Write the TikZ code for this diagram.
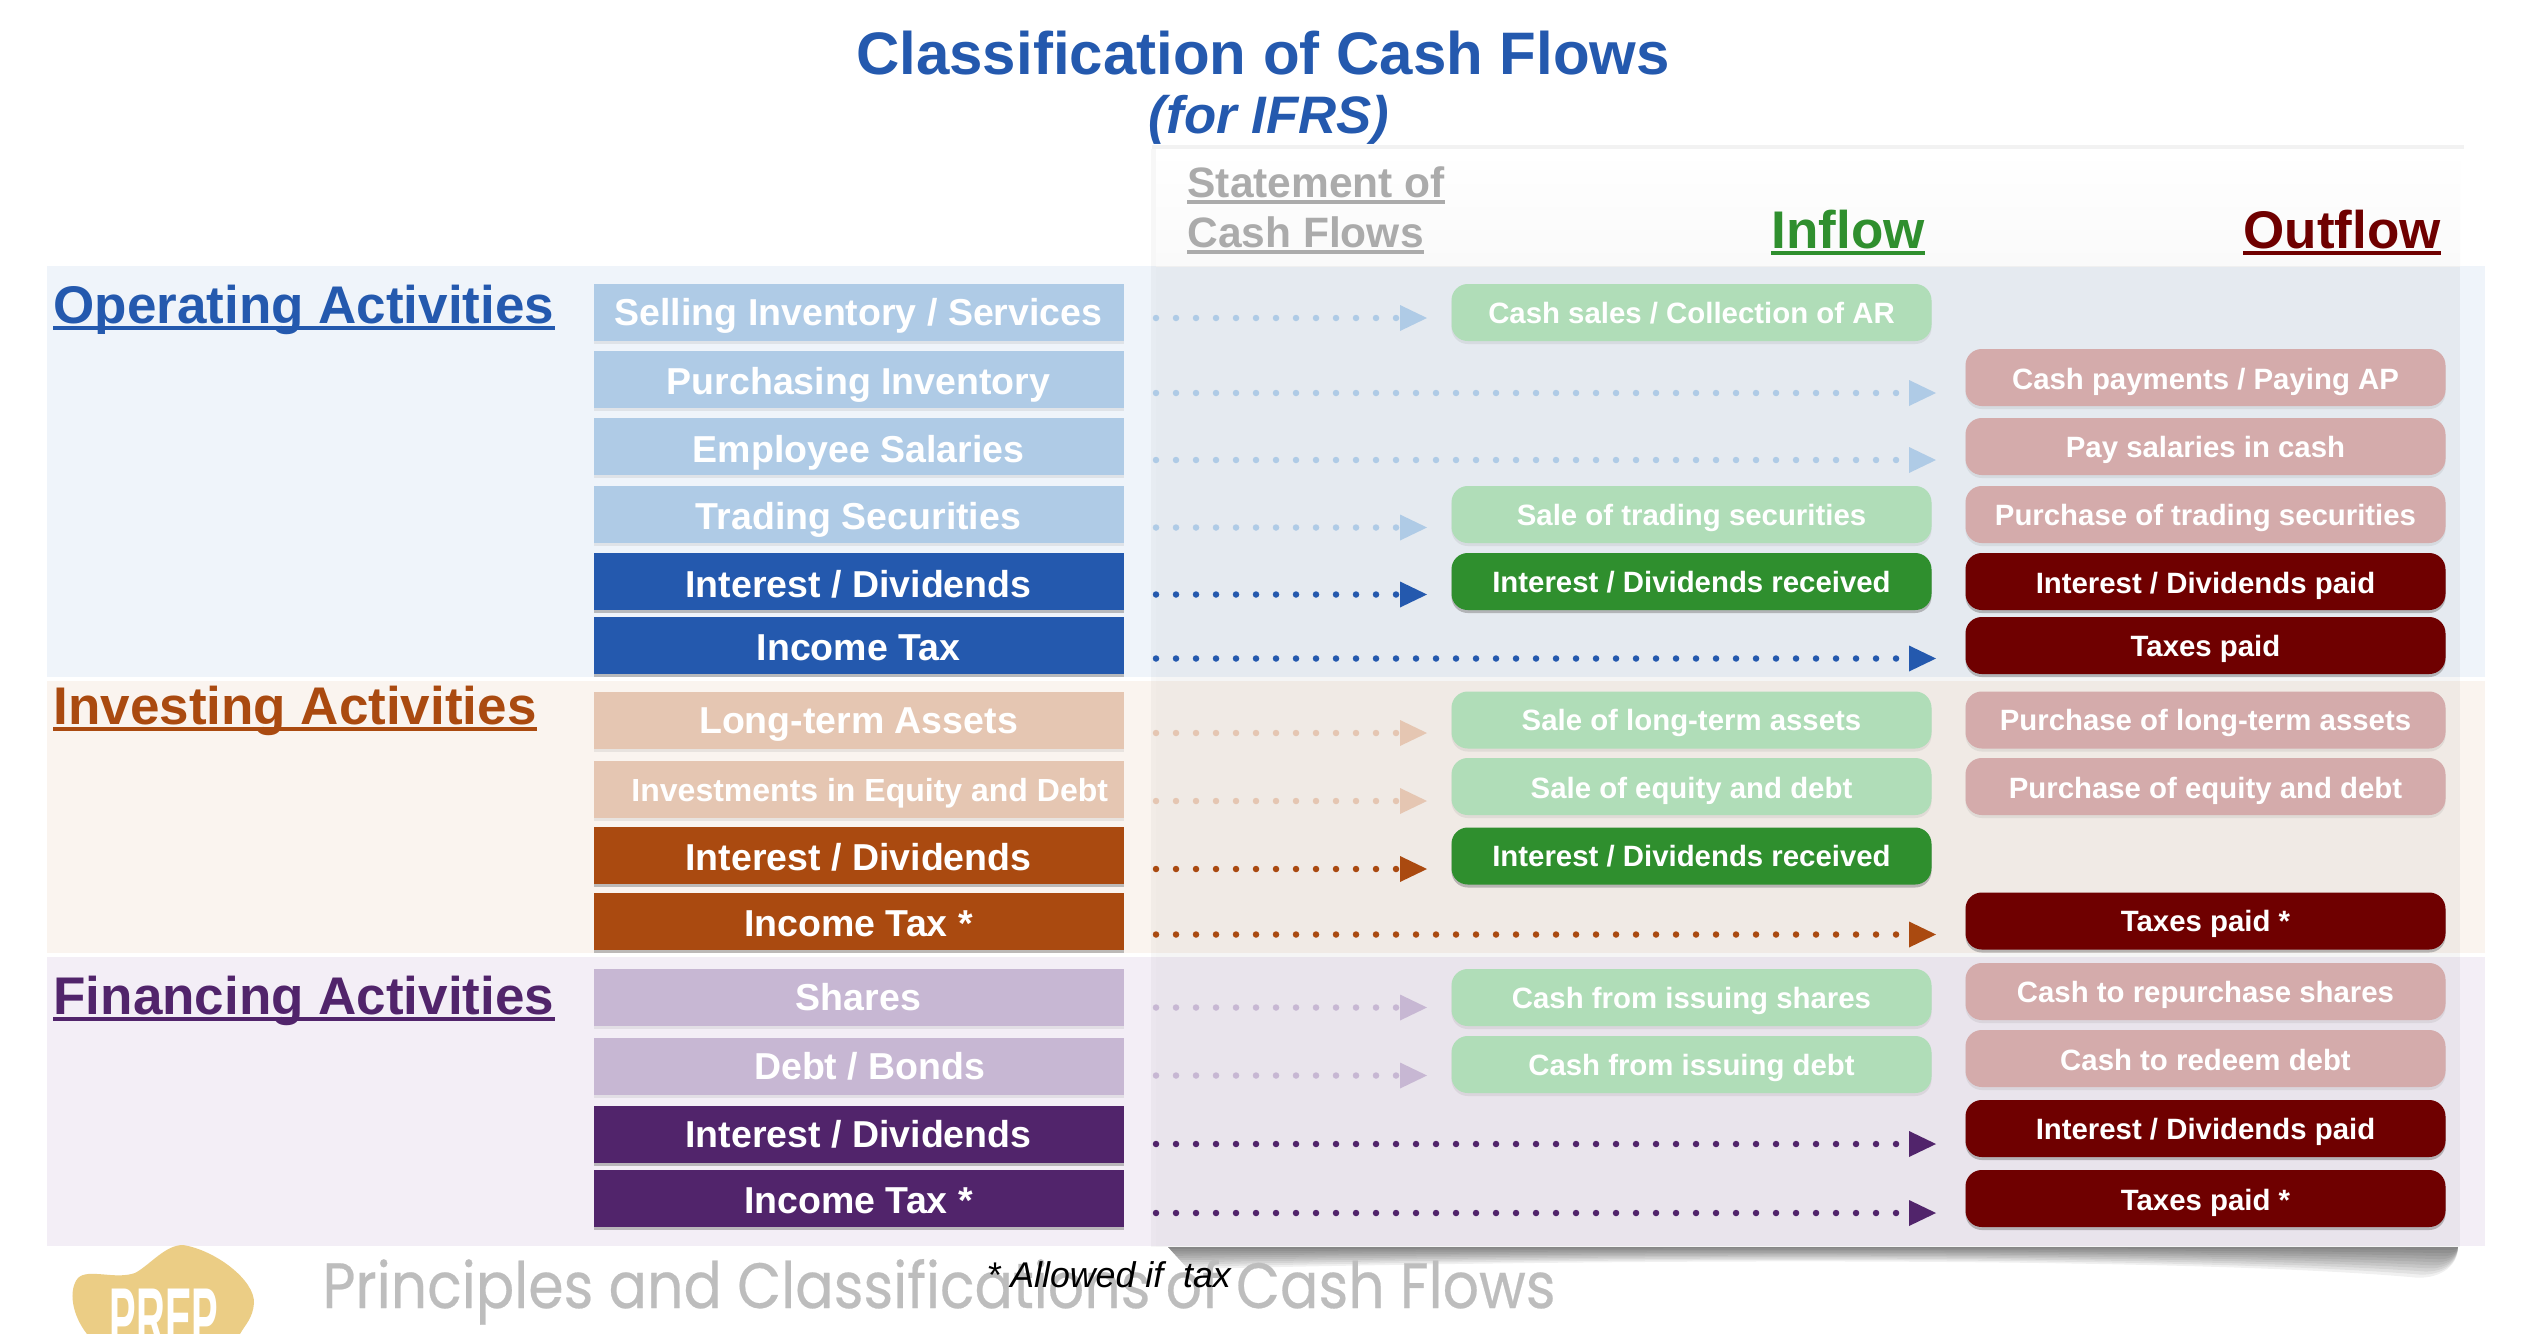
\documentclass[tikz,border=0pt]{standalone}
\usepackage{fontspec}
\setmainfont{Liberation Sans}
\newfontfamily\gothicfont[FakeBold=.4]{Poppins}
\usetikzlibrary{arrows.meta,shadows}
\definecolor{opdark}{RGB}{36,89,174}
\definecolor{oplight}{RGB}{175,203,230}
\definecolor{opband}{RGB}{239,244,250}
\definecolor{invdark}{RGB}{170,74,16}
\definecolor{invlight}{RGB}{229,198,178}
\definecolor{invband}{RGB}{250,244,239}
\definecolor{findark}{RGB}{81,36,107}
\definecolor{finlight}{RGB}{199,183,211}
\definecolor{finband}{RGB}{243,238,246}
\definecolor{ingreen}{RGB}{47,143,46}
\definecolor{inpale}{RGB}{176,221,184}
\definecolor{outred}{RGB}{111,0,0}
\definecolor{outpale}{RGB}{212,171,171}
\definecolor{headgray}{RGB}{171,171,171}
\definecolor{markgray}{RGB}{189,189,189}
\definecolor{prepgold}{RGB}{235,205,133}
\tikzset{
  rowbox/.style={fill=#1,text=white,font=\fontsize{15}{18}\selectfont\bfseries,
    minimum width=212pt,minimum height=22.8pt,inner sep=0pt,
    text height=10.7pt,text depth=0pt},
  lowtext/.style={text height=12pt},
  softshade/.style={drop shadow={shadow xshift=0pt,shadow yshift=-1.2pt,opacity=.14}},
  hardshade/.style={drop shadow={shadow xshift=0pt,shadow yshift=-1.2pt,opacity=.5}},
  flowbox/.style={fill=#1,text=white,rounded corners=6.5pt,
    font=\fontsize{11.75}{14}\selectfont\bfseries,
    minimum width=192pt,minimum height=22.8pt,inner sep=0pt,
    text height=8.4pt,text depth=0pt},
  lowflow/.style={text height=9.6pt},
  sectionhead/.style={text=#1,anchor=base west,inner sep=0pt,
    font=\fontsize{21.2}{25}\selectfont\bfseries},
  grayhead/.style={text=headgray,anchor=base west,inner sep=0pt,
    font=\fontsize{17}{20}\selectfont\bfseries},
  headrule/.style={draw=#1,line width=1.4pt},
  flowdots/.style={draw=#1,line width=2.6pt,line cap=round,
    dash pattern=on 0pt off 8pt,
    -{Triangle[length=10.8pt,width=10.4pt,line width=0pt,fill=#1]}},
}
\begin{document}
\begin{tikzpicture}[x=.4pt,y=-.4pt]
    \useasboundingbox (0,0) rectangle (2522,1334);
    \fill[white] (0,0) rectangle (2522,1334);
    \fill[opband] (47,266) rectangle (2485,677);
    \fill[invband] (47,681) rectangle (2485,953);
    \fill[finband] (47,957) rectangle (2485,1246);

    % statement panel
    \fill[black,opacity=.05] (1152,145) rectangle (2464,149);
    \fill[black,opacity=.03] (1151,149) rectangle (1156,1247);
    \shade[top color=white,bottom color=black!2] (1156,149) rectangle (2460,266);
    \fill[black,opacity=.04] (1156,266) rectangle (2460,1247);
    \foreach \d in {2,4,...,20}
      \fill[black,opacity=.06] (1168,1247) -- (2458,1247)
        .. controls (2458,{1247+\d}) and ({2458-\d},{1247+\d*1.7}) .. ({2450-\d*2},{1247+\d*1.5})
        .. controls (2200,{1247+\d*.6}) and (1700,{1247+\d*.5}) .. ({1168+\d},{1247+\d*1.1})
        -- cycle;

    \node[text=opdark,anchor=base,inner sep=0pt,font=\fontsize{24}{28}\selectfont\bfseries]
      (title) at (1263,74) {Classification of Cash Flows};
    \node[text=opdark,anchor=base,inner sep=0pt,font=\fontsize{21.1}{25}\selectfont\bfseries\itshape]
      (subtitle) at (1269,133) {(for IFRS)};
    \node[grayhead] (stmtone) at (1187,197) {Statement of};
    \node[grayhead] (stmttwo) at (1187,247) {Cash Flows};
    \node[sectionhead=ingreen] (inflow) at (1771,248) {Inflow};
    \node[sectionhead=outred] (outflow) at (2243,248) {Outflow};

    \node[sectionhead=opdark] (operating) at (53,323) {Operating Activities};
    \node[sectionhead=invdark] (investing) at (53,724) {Investing Activities};
    \node[sectionhead=findark] (financing) at (53,1014) {Financing Activities};

    % underlines
    \draw[headrule=headgray] ([shift={(0,5)}]stmtone.base west) -- ([shift={(0,5)}]stmtone.base east);
    \draw[headrule=headgray] ([shift={(0,5)}]stmttwo.base west) -- ([shift={(0,5)}]stmttwo.base east);
    \draw[headrule=ingreen] ([shift={(0,5)}]inflow.base west) -- ([shift={(0,5)}]inflow.base east);
    \draw[headrule=outred] ([shift={(0,5)}]outflow.base west) -- ([shift={(0,5)}]outflow.base east);
    \draw[headrule=opdark] ([shift={(0,5)}]operating.base west) -- ([shift={(0,5)}]operating.base east);
    \draw[headrule=invdark] ([shift={(0,5)}]investing.base west) -- ([shift={(0,5)}]investing.base east);
    \draw[headrule=findark] ([shift={(0,5)}]financing.base west) -- ([shift={(0,5)}]financing.base east);

    % operating rows
    \node[rowbox=oplight,softshade] (sell) at (858.5,312) {Selling Inventory / Services};
    \node[rowbox=oplight,softshade,lowtext] (purch) at (858.5,379) {Purchasing Inventory};
    \node[rowbox=oplight,softshade,text height=13pt] (salary) at (858.5,446.5) {Employee Salaries};
    \node[rowbox=oplight,softshade,lowtext] (trading) at (858.5,514.5) {Trading Securities};
    \node[rowbox=opdark,hardshade,text height=13pt] (opint) at (858.5,581) {Interest / Dividends};
    \node[rowbox=opdark,hardshade,lowtext] (optax) at (858.5,645) {Income Tax};

    % investing rows
    \node[rowbox=invlight,softshade] (longterm) at (858.5,720) {Long-term Assets};
    \node[rowbox=invlight,softshade,font=\fontsize{12.8}{15}\selectfont\bfseries,text height=9.2pt]
      (equity) at (858.5,789.5) {\hspace{9pt}Investments in Equity and Debt};
    \node[rowbox=invdark,hardshade,lowtext] (invint) at (858.5,855.5) {Interest / Dividends};
    \node[rowbox=invdark,hardshade,lowtext] (invtax) at (858.5,921) {Income Tax *};

    % financing rows
    \node[rowbox=finlight,softshade] (shares) at (858.5,997.5) {Shares};
    \node[rowbox=finlight,softshade] (debt) at (858.5,1066.5) {\hspace{9pt}Debt / Bonds};
    \node[rowbox=findark,hardshade] (finint) at (858.5,1134) {Interest / Dividends};
    \node[rowbox=findark,hardshade,lowtext] (fintax) at (858.5,1198.5) {Income Tax *};

    % inflow column
    \node[flowbox=inpale,softshade] (cashsales) at (1691.5,312.5) {Cash sales / Collection of AR};
    \node[flowbox=inpale,softshade] (saletrading) at (1691.5,514.5) {Sale of trading securities};
    \node[flowbox=ingreen,hardshade] (opreceived) at (1691.5,581.5) {Interest / Dividends received};
    \node[flowbox=inpale,softshade] (salelong) at (1691.5,720) {Sale of long-term assets};
    \node[flowbox=inpale,softshade,lowflow] (saleequity) at (1691.5,786.5) {Sale of equity and debt};
    \node[flowbox=ingreen,hardshade] (invreceived) at (1691.5,856) {Interest / Dividends received};
    \node[flowbox=inpale,softshade] (issueshares) at (1691.5,997.5) {Cash from issuing shares};
    \node[flowbox=inpale,softshade] (issuedebt) at (1691.5,1064.5) {Cash from issuing debt};

    % outflow column
    \node[flowbox=outpale,softshade,lowflow] (cashpay) at (2205.5,377.5) {Cash payments / Paying AP};
    \node[flowbox=outpale,softshade] (paysalary) at (2205.5,446.5) {Pay salaries in cash};
    \node[flowbox=outpale,softshade] (buytrading) at (2205.5,514.5) {Purchase of trading securities};
    \node[flowbox=outred,hardshade,lowflow] (oppaid) at (2205.5,581.5) {Interest / Dividends paid};
    \node[flowbox=outred,hardshade] (optaxes) at (2205.5,645.5) {Taxes paid};
    \node[flowbox=outpale,softshade] (buylong) at (2205.5,720) {Purchase of long-term assets};
    \node[flowbox=outpale,softshade,lowflow] (buyequity) at (2205.5,786.5) {Purchase of equity and debt};
    \node[flowbox=outred,hardshade] (invtaxes) at (2205.5,921) {Taxes paid *};
    \node[flowbox=outpale,softshade] (repurchase) at (2205.5,991.5) {Cash to repurchase shares};
    \node[flowbox=outpale,softshade,lowflow] (redeem) at (2205.5,1058.5) {Cash to redeem debt};
    \node[flowbox=outred,hardshade] (finpaid) at (2205.5,1128.5) {Interest / Dividends paid};
    \node[flowbox=outred,hardshade,lowflow] (fintaxes) at (2205.5,1198.5) {Taxes paid *};

    % dotted connectors
    \draw[flowdots=oplight] ([shift={(32,6)}]sell.east) -- ([shift={(-24,6)}]cashsales.west |- sell.east);
    \draw[flowdots=oplight] ([shift={(32,14)}]purch.east) -- ([shift={(-29,14)}]cashpay.west |- purch.east);
    \draw[flowdots=oplight] ([shift={(32,13.5)}]salary.east) -- ([shift={(-29,13.5)}]paysalary.west |- salary.east);
    \draw[flowdots=oplight] ([shift={(32,13)}]trading.east) -- ([shift={(-24,13)}]saletrading.west |- trading.east);
    \draw[flowdots=opdark] ([shift={(32,13.5)}]opint.east) -- ([shift={(-24,13.5)}]opreceived.west |- opint.east);
    \draw[flowdots=opdark] ([shift={(32,13.5)}]optax.east) -- ([shift={(-29,13.5)}]optaxes.west |- optax.east);
    \draw[flowdots=invlight] ([shift={(32,13)}]longterm.east) -- ([shift={(-24,13)}]salelong.west |- longterm.east);
    \draw[flowdots=invlight] ([shift={(32,11.5)}]equity.east) -- ([shift={(-24,11.5)}]saleequity.west |- equity.east);
    \draw[flowdots=invdark] ([shift={(32,13.5)}]invint.east) -- ([shift={(-24,13.5)}]invreceived.west |- invint.east);
    \draw[flowdots=invdark] ([shift={(32,13.5)}]invtax.east) -- ([shift={(-29,13.5)}]invtaxes.west |- invtax.east);
    \draw[flowdots=finlight] ([shift={(32,10)}]shares.east) -- ([shift={(-24,10)}]issueshares.west |- shares.east);
    \draw[flowdots=finlight] ([shift={(32,9)}]debt.east) -- ([shift={(-24,9)}]issuedebt.west |- debt.east);
    \draw[flowdots=findark] ([shift={(32,10)}]finint.east) -- ([shift={(-29,10)}]finpaid.west |- finint.east);
    \draw[flowdots=findark] ([shift={(32,14.5)}]fintax.east) -- ([shift={(-29,14.5)}]fintaxes.west |- fintax.east);

    % logo and footer
    \fill[prepgold] (87,1334) .. controls (72,1315) and (68,1290) .. (78,1278)
      .. controls (88,1268) and (115,1280) .. (135,1273)
      .. controls (150,1265) and (165,1245) .. (183,1245)
      .. controls (215,1250) and (255,1280) .. (254,1303)
      .. controls (253,1318) and (245,1325) .. (240,1334) -- cycle;
    \node[text=white,anchor=base,inner sep=0pt,font=\fontsize{34}{40}\selectfont\bfseries]
      (prep) at (164,1347) {\scalebox{.47}[1]{PREP}};
    \node[text=markgray,anchor=base west,inner sep=0pt,font=\gothicfont\fontsize{25.6}{30}\selectfont]
      (watermark) at (322,1308) {\scalebox{.89}[1]{Principles and Classifications of Cash Flows}};
    \node[text=black,anchor=base west,inner sep=0pt,font=\fontsize{14.3}{17}\selectfont\itshape]
      (footnote) at (986,1287) {* Allowed if\ \ tax};
  \end{tikzpicture}
\end{document}
